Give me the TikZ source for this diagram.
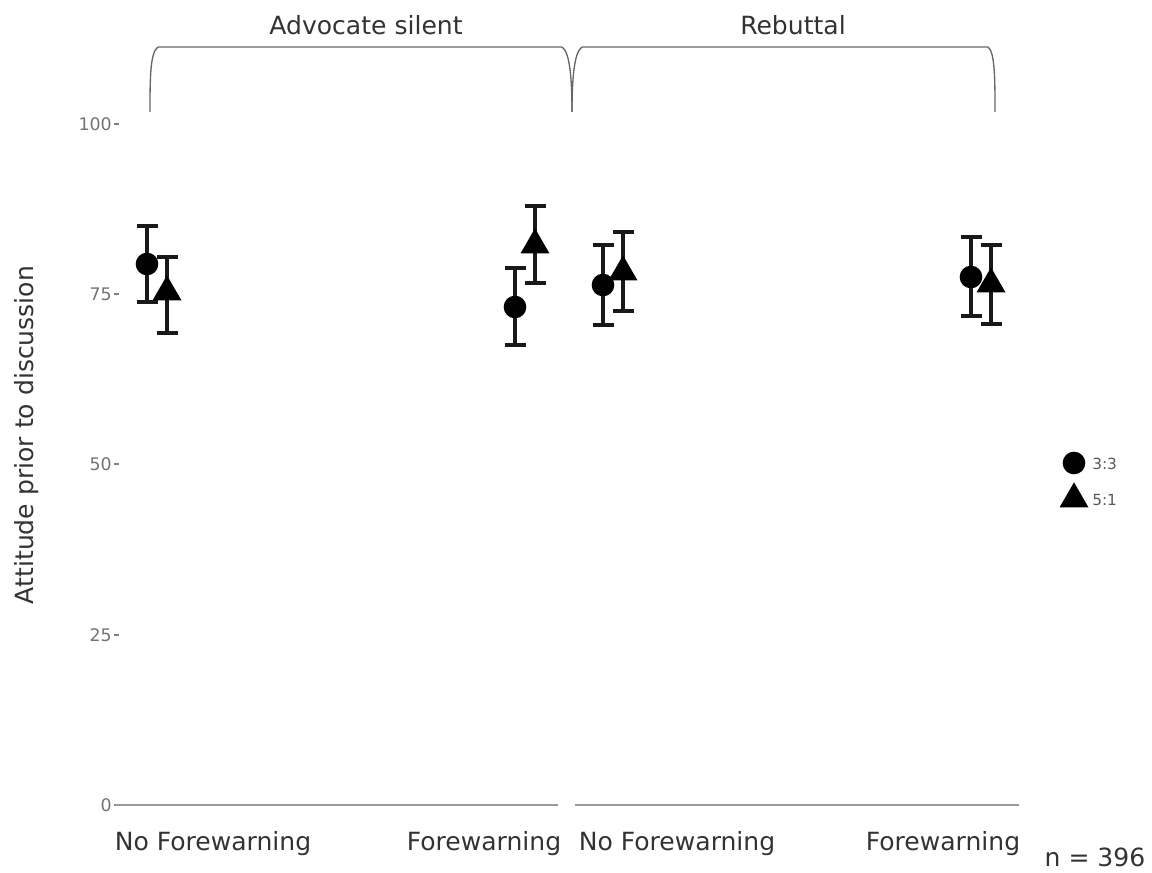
\documentclass[tikz,border=0pt]{standalone}
\usepackage{fontspec}
\setmainfont{DejaVu Sans}
\usetikzlibrary{shapes.geometric}

\begin{document}
\begin{tikzpicture}[x=0.75pt,y=-0.75pt,
  axislabel/.style={text=black!80,font=\fontsize{18.8}{22}\selectfont,inner sep=0pt},
  ticklabel/.style={text=black!55,font=\fontsize{13}{15}\selectfont,anchor=east,inner sep=0pt},
  legendlabel/.style={text=black!65,font=\fontsize{11.5}{13}\selectfont,anchor=west,inner sep=0pt},
  dot/.style={circle,fill=black,minimum size=17pt,inner sep=0pt},
  tri/.style={regular polygon,regular polygon sides=3,fill=black,minimum size=25pt,inner sep=0pt},
  errbar/.style={draw=black!90,line width=2.6pt},
  brace/.style={draw=black!60,line width=1pt},
  axisline/.style={draw=black!40,line width=1.2pt}
]
\useasboundingbox (0,0) rectangle (1152,873);

% y axis ticks
\foreach \v/\y in {100/124,75/294,50/464,25/635,0/805}{
  \node[ticklabel] (t\v) at (112,\y) {\v};
  \draw[draw=black!50,line width=1pt] (114,\y) -- (119,\y);
}
\node[axislabel,rotate=90] (ylab) at (27,435) {Attitude prior to discussion};

% x axis lines
\draw[axisline] (115,805) -- (558,805);
\draw[axisline] (575,805) -- (1019,805);

% category labels
\node[axislabel] (nf1) at (213,844) {No Forewarning};
\node[axislabel] (fw1) at (484,844) {Forewarning};
\node[axislabel] (nf2) at (677,844) {No Forewarning};
\node[axislabel] (fw2) at (943,844) {Forewarning};
\node[axislabel] (n) at (1095,857) {n = 396};

% braces
\draw[brace] (150,112) .. controls (150,80) and (150,52) .. (158,47) -- (562,47)
  .. controls (570,52) and (572,80) .. (572,112);
\draw[brace] (572,112) .. controls (572,80) and (574,52) .. (582,47) -- (988,47)
  .. controls (995,52) and (995,80) .. (995,112);
\node[axislabel] (adv) at (366,25) {Advocate silent};
\node[axislabel] (reb) at (793,25) {Rebuttal};

% error bars
\foreach \x/\lo/\hi in {147/302/226, 167/333/257, 515/345/268, 535/283/206,
                        603/325/245, 623/311/232, 971/316/237, 991/324/245}{
  \draw[errbar] (\x,\lo) -- (\x,\hi);
  \draw[errbar] (\x-10.5,\lo) -- (\x+10.5,\lo);
  \draw[errbar] (\x-10.5,\hi) -- (\x+10.5,\hi);
}

% points
\node[dot] (c1) at (147,264) {};
\node[tri] (d1) at (167,292) {};
\node[dot] (c2) at (515,307) {};
\node[tri] (d2) at (535,245) {};
\node[dot] (c3) at (603,285) {};
\node[tri] (d3) at (623,272) {};
\node[dot] (c4) at (971,277) {};
\node[tri] (d4) at (991,284) {};

% legend
\node[dot] (lc) at (1074,463) {};
\node[tri] (lt) at (1074,499) {};
\node[legendlabel] (l33) at (1092,464) {3:3};
\node[legendlabel] (l51) at (1092,500) {5:1};
\end{tikzpicture}
\end{document}
